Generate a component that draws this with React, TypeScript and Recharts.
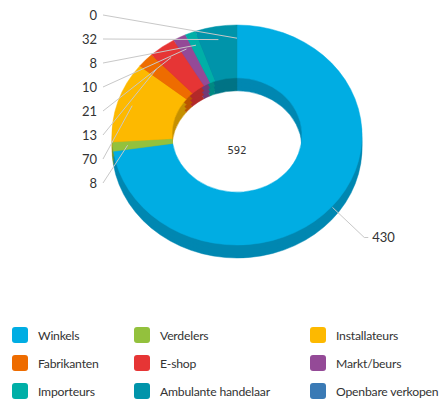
import { PieChart, Pie, Cell, Legend } from "recharts";

const categories = [
  "Winkels",
  "Verdelers",
  "Installateurs",
  "Fabrikanten",
  "E-shop",
  "Markt/beurs",
  "Importeurs",
  "Ambulante handelaar",
  "Openbare verkopen",
];
const values = [430, 8, 70, 13, 21, 10, 8, 32, 0];
const colors = [
  "#00ade3",
  "#93c13d",
  "#fdb900",
  "#ee6c00",
  "#e63535",
  "#944a97",
  "#00afa7",
  "#0094aa",
  "#3a7ab5",
];
const total = values.reduce((a, b) => a + b, 0);

const W = 441;
const H = 400;
const CX = 237;
const CY = 135;
const OUTER = 125;
const INNER = 65;
const TILT = 0.88; // vertical squash for the 3D look
const SIDE_STEPS = [13, 9, 5];
const FONT = "Lato, 'Open Sans', sans-serif";

const data = categories.map((name, i) => ({ name, value: values[i] }));

function darken(hex: string, f: number) {
  const n = parseInt(hex.slice(1), 16);
  const r = Math.round(((n >> 16) & 255) * f);
  const g = Math.round(((n >> 8) & 255) * f);
  const b = Math.round((n & 255) * f);
  return `rgb(${r},${g},${b})`;
}

const css =
  `.pie-top path.recharts-sector { transform-origin: ${CX}px ${CY}px; transform: scaleY(${TILT}); }\n` +
  SIDE_STEPS.map(
    (d) =>
      `.pie-side-${d} path.recharts-sector { transform-origin: ${CX}px ${CY}px; transform: translateY(${d}px) scaleY(${TILT}); }`,
  ).join("\n");

function renderLabel(props: any) {
  const { cx, cy, midAngle, index, value } = props;
  const rad = (-midAngle * Math.PI) / 180;
  const pt = (r: number) => ({
    x: cx + r * Math.cos(rad),
    y: cy + r * Math.sin(rad) * TILT,
  });
  if (Math.cos(rad) > 0.01) {
    const p1 = pt(126);
    const e = pt(168);
    const ey = e.y + 6;
    return (
      <g key={`l-${index}`}>
        <path
          d={`M${p1.x},${p1.y} L${e.x},${ey} L${e.x + 4},${ey}`}
          stroke="#c8c8c8"
          fill="none"
        />
        <text
          x={e.x + 8}
          y={ey}
          fill="#333"
          fontSize={13}
          fontFamily={FONT}
          dominantBaseline="central"
        >
          {value}
        </text>
      </g>
    );
  }
  const slot = categories.length - 1 - index;
  const ly = 15 + slot * 24;
  const p = pt(110);
  return (
    <g key={`l-${index}`}>
      <path d={`M103,${ly} L${p.x},${p.y}`} stroke="#c8c8c8" fill="none" />
      <text
        x={97}
        y={ly}
        fill="#333"
        fontSize={13}
        fontFamily={FONT}
        textAnchor="end"
        dominantBaseline="central"
      >
        {value}
      </text>
    </g>
  );
}

function LegendGrid() {
  return (
    <div
      style={{
        display: "grid",
        gridTemplateColumns: "122px 176px auto",
        rowGap: 0,
        paddingLeft: 12,
        fontFamily: FONT,
        fontSize: 12.2,
        letterSpacing: -0.2,
        color: "#333",
      }}
    >
      {categories.map((c, i) => (
        <div
          key={c}
          style={{ display: "flex", alignItems: "center", height: 28, whiteSpace: "nowrap" }}
        >
          <span
            style={{
              width: 16,
              height: 16,
              borderRadius: 3,
              background: colors[i],
              marginRight: 10,
              flex: "none",
            }}
          />
          {c}
        </div>
      ))}
    </div>
  );
}

export default function App() {
  return (
    <div style={{ position: "absolute", left: 0, top: 0, background: "#fff" }}>
      <style>{css}</style>
      <PieChart width={W} height={H} margin={{ top: 0, right: 0, bottom: 0, left: 0 }}>
        {SIDE_STEPS.map((d) => (
          <Pie
            key={d}
            className={`pie-side-${d}`}
            data={data}
            dataKey="value"
            nameKey="name"
            cx={CX}
            cy={CY}
            innerRadius={INNER}
            outerRadius={OUTER}
            startAngle={90}
            endAngle={-270}
            isAnimationActive={false}
            legendType="none"
          >
            {data.map((_, i) => (
              <Cell
                key={i}
                fill={darken(colors[i], 0.78)}
                stroke={darken(colors[i], 0.78)}
                strokeWidth={0.5}
              />
            ))}
          </Pie>
        ))}
        <Pie
          className="pie-top"
          data={data}
          dataKey="value"
          nameKey="name"
          cx={CX}
          cy={CY}
          innerRadius={INNER}
          outerRadius={OUTER}
          startAngle={90}
          endAngle={-270}
          isAnimationActive={false}
          label={renderLabel}
          labelLine={false}
        >
          {data.map((_, i) => (
            <Cell key={i} fill={colors[i]} stroke={colors[i]} strokeWidth={0.5} />
          ))}
        </Pie>
        <text
          x={CX}
          y={CY + 15}
          textAnchor="middle"
          dominantBaseline="central"
          fontFamily="'DejaVu Sans', sans-serif"
          fontSize={10}
          fill="#333"
        >
          {total}
        </text>
        <Legend
          content={() => <LegendGrid />}
          wrapperStyle={{ position: "absolute", top: 321, left: 0, width: W }}
        />
      </PieChart>
    </div>
  );
}
